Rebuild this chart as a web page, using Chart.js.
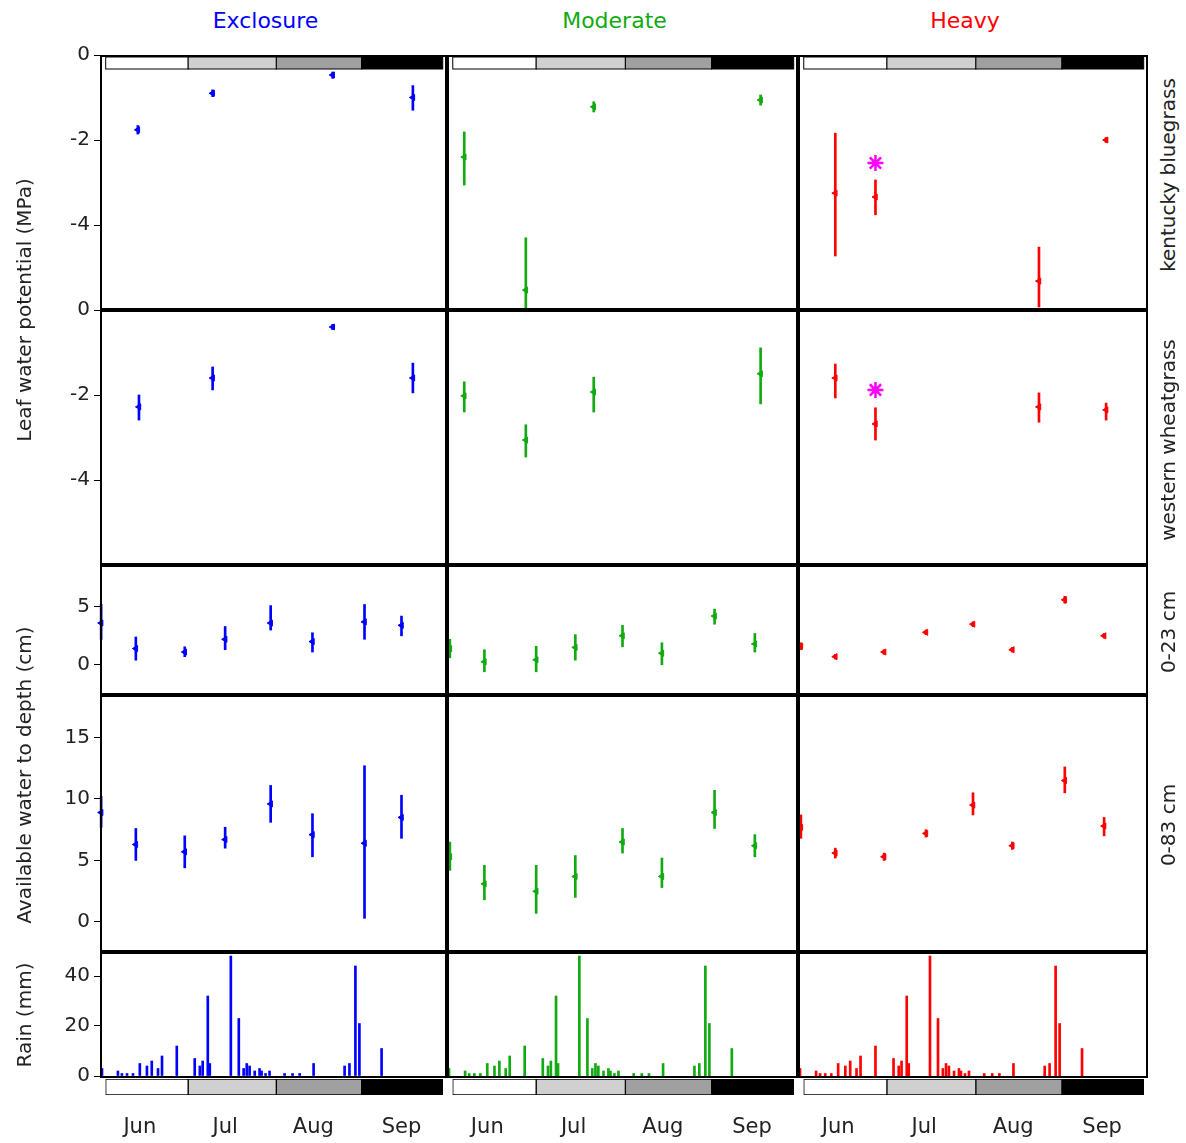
<!DOCTYPE html>
<html>
<head>
<meta charset="utf-8">
<script src="https://cdn.jsdelivr.net/npm/chart.js@4"></script>
<style>
body { margin:0; background:#fff; font-family:"DejaVu Sans", sans-serif; }
#wrap { position:relative; width:1186px; height:1143px; overflow:hidden; }
canvas { position:absolute; }
.lbl { position:absolute; font-size:20px; color:#222; white-space:nowrap; }
.rot { transform:translate(-50%,-50%) rotate(-90deg); }
.ttl { position:absolute; font-size:22px; transform:translateX(-50%); }
</style>
</head>
<body>
<div id="wrap"></div>
<script>
// x values are days counted from 30 May
const monthNames = ['Jun', 'Jul', 'Aug', 'Sep']
const monthStart = [2, 31, 62, 92]
const monthEnd = [31, 62, 92, 120.5]
const monthFill = ['#ffffff', '#d0d0d0', '#a0a0a0', '#000000']
const monthTick = [14, 44, 75, 106]

// [day, mean, low, high]
const kbExclosure = [[13.3,-1.76,-1.66,-1.86],[39.6,-0.9,-0.82,-0.98],[81.8,-0.47,-0.4,-0.55],[110,-1.0,-0.72,-1.3]]
const kbModerate = [[6,-2.4,-1.81,-3.06],[27.4,-5.53,-4.3,-5.95],[51,-1.22,-1.1,-1.34],[109,-1.06,-0.94,-1.18]]
const kbHeavy = [[13,-3.25,-1.84,-4.73],[27,-3.34,-2.94,-3.76],[84,-5.32,-4.52,-5.93],[107.4,-2.0,-1.94,-2.06]]
const kbStar = [[27,-2.54]]

const wwExclosure = [[13.7,-2.28,-2.0,-2.59],[39.6,-1.6,-1.34,-1.88],[81.8,-0.4,-0.34,-0.46],[110,-1.6,-1.25,-1.95]]
const wwModerate = [[6,-2.02,-1.69,-2.4],[27.4,-3.06,-2.7,-3.46],[51,-1.93,-1.58,-2.4],[109,-1.5,-0.89,-2.21]]
const wwHeavy = [[13,-1.6,-1.27,-2.07],[27,-2.68,-2.3,-3.06],[84,-2.28,-1.95,-2.64],[107.4,-2.35,-2.19,-2.59]]
const wwStar = [[27,-1.88]]

const d23Exclosure = [[0.4,3.6,5.2,2.2],[12.6,1.4,2.4,0.4],[29.8,1.1,1.55,0.7],[44,2.2,3.3,1.3],[60,3.6,5.1,3.0],[74.7,2.0,2.76,1.1],[93,3.7,5.2,2.2],[106,3.4,4.2,2.5]]
const d23Moderate = [[1,1.4,2.2,0.6],[13,0.26,1.3,-0.6],[31,0.43,1.6,-0.6],[44.6,1.5,2.6,0.4],[61,2.5,3.4,1.55],[74.7,1.0,1.9,0],[93,4.2,4.8,3.5],[107,1.8,2.7,1.1]]
const d23Heavy = [[1,1.6,1.9,1.3],[13,0.7,0.9,0.5],[30,1.1,1.3,0.9],[44.6,2.8,3.0,2.6],[61,3.5,3.7,3.3],[74.7,1.3,1.5,1.1],[93,5.6,5.9,5.3],[106.7,2.5,2.7,2.3]]

const d83Exclosure = [[0.4,8.9,10.2,7.7],[12.6,6.3,7.6,5.0],[29.8,5.7,7.0,4.4],[44,6.7,7.7,6.0],[60,9.6,11.1,8.1],[74.7,7.1,8.8,5.3],[93,6.4,12.7,0.3],[106,8.5,10.3,6.8]]
const d83Moderate = [[1,5.3,6.5,4.2],[13,3.1,4.6,1.8],[31,2.5,4.6,0.7],[44.6,3.7,5.4,2.0],[61,6.5,7.6,5.6],[74.7,3.7,5.2,2.8],[93,8.9,10.7,7.6],[107,6.2,7.1,5.3]]
const d83Heavy = [[1,7.7,8.7,6.8],[13,5.6,6.0,5.2],[30,5.3,5.6,5.0],[44.6,7.2,7.5,6.9],[61,9.5,10.5,8.7],[74.7,6.2,6.5,5.9],[93,11.5,12.6,10.5],[106.7,7.8,8.5,7.0]]

// [day, mm]
const rain = [[0.7,3],[6.3,2],[7.7,1],[9.5,1],[11.6,1],[14,5],[16.5,4],[18.2,6],[20.4,3],[21.8,8],[27,12],[33.3,7],[35.1,4],[36.1,6],[37.9,32],[38.6,5],[46,48],[48.8,23],[50.5,3],[51.6,5],[52.6,4],[54.4,2],[56.1,3],[56.8,2],[58.2,1],[59.6,2],[64.9,1],[67.7,1],[70.2,1],[75.1,5],[86,4],[87.7,5],[89.8,44],[91.2,21],[99,11]]

const cols = [
  {name:'Exclosure', color:'#0000ff', left:100, right:447},
  {name:'Moderate', color:'#11aa11', left:447, right:798},
  {name:'Heavy', color:'#ff0000', left:798, right:1148}
]
const rows = [
  {top:55, bottom:310, min:-6, max:0, ticks:[0,-2,-4], data:[kbExclosure,kbModerate,kbHeavy], star:kbStar, monthBar:true},
  {top:310, bottom:565, min:-6, max:0, ticks:[0,-2,-4], data:[wwExclosure,wwModerate,wwHeavy], star:wwStar},
  {top:565, bottom:695, min:-2.6, max:8.6, ticks:[0,5], data:[d23Exclosure,d23Moderate,d23Heavy]},
  {top:695, bottom:952, min:-2.44, max:18.45, ticks:[0,5,10,15], data:[d83Exclosure,d83Moderate,d83Heavy]},
  {top:952, bottom:1078, min:-0.8, max:49.6, ticks:[0,20,40], rain:true}
]

const wrap = document.getElementById('wrap')
const FONT = {family:'DejaVu Sans', size:20}
const PAD = 14

const frame = {
  id: 'frame',
  afterDraw(chart, args, opts) {
    const a = chart.chartArea, ctx = chart.ctx
    ctx.save()
    if (opts.monthBar) {
      const x = chart.scales.x
      for (let i = 0; i < monthStart.length; i++) {
        const x0 = x.getPixelForValue(monthStart[i]), x1 = x.getPixelForValue(monthEnd[i])
        ctx.fillStyle = monthFill[i]
        ctx.fillRect(x0, a.top + 2, x1 - x0, 12)
        ctx.strokeStyle = '#000'; ctx.lineWidth = 1
        ctx.strokeRect(x0, a.top + 2, x1 - x0, 12)
      }
    }
    ctx.strokeStyle = '#000'; ctx.lineWidth = 2
    ctx.strokeRect(a.left + 1, a.top + 1, a.right - a.left - 2, a.bottom - a.top - 2)
    ctx.restore()
  }
}

function addCanvas(left, top, w, h) {
  const c = document.createElement('canvas')
  c.width = w; c.height = h
  c.style.left = left + 'px'; c.style.top = top + 'px'
  c.style.width = w + 'px'; c.style.height = h + 'px'
  wrap.appendChild(c)
  return c
}

function yAxis(row, show) {
  return {
    min: row.min, max: row.max, display: show,
    afterBuildTicks: s => { s.ticks = row.ticks.map(v => ({value: v})) },
    afterFit: s => { s.width = show ? 100 : 0; s.paddingTop = 0; s.paddingBottom = 0 },
    ticks: {color: '#222', font: FONT, padding: 4, callback: v => v},
    grid: {drawOnChartArea: false, tickLength: 6, color: '#000'},
    border: {display: false}
  }
}

rows.forEach(row => {
  cols.forEach((col, ci) => {
    const first = ci === 0
    const left = first ? 0 : col.left
    const cv = addCanvas(left, row.top - PAD, col.right - left, row.bottom - row.top + 2 * PAD)
    const datasets = []
    if (row.rain) {
      datasets.push({type: 'bar', data: rain.map(r => ({x: r[0], y: [0, r[1]]})),
        backgroundColor: col.color, barThickness: 2})
    } else {
      const d = row.data[ci]
      datasets.push({type: 'bar', data: d.map(p => ({x: p[0], y: [p[3], p[2]]})),
        backgroundColor: col.color, barThickness: 2, clip: false})
      datasets.push({type: 'scatter', data: d.map(p => ({x: p[0], y: p[1]})), clip: false,
        pointStyle: 'triangle', rotation: -90, radius: 3.5, backgroundColor: col.color, borderColor: col.color})
      if (row.star && ci === 2) {
        datasets.push({type: 'scatter', data: row.star.map(p => ({x: p[0], y: p[1]})),
          pointStyle: 'star', radius: 8, borderWidth: 2.5, borderColor: '#ff00ff', backgroundColor: '#ff00ff'})
      }
    }
    new Chart(cv, {
      data: {datasets},
      plugins: [frame],
      options: {
        responsive: false, animation: false, devicePixelRatio: 1,
        layout: {padding: {top: PAD, bottom: PAD, left: 0, right: 0}, autoPadding: false},
        plugins: {legend: {display: false}, tooltip: {enabled: false}, frame: {monthBar: !!row.monthBar}},
        scales: {
          x: {type: 'linear', min: 0, max: 122, offset: false, display: false},
          y: yAxis(row, first)
        }
      }
    })
  })
})

// bottom month bars with month labels
cols.forEach(col => {
  const cv = addCanvas(col.left, 1076, col.right - col.left, 67)
  new Chart(cv, {
    type: 'bar',
    data: {
      labels: ['m'],
      datasets: monthNames.map((m, i) => ({
        label: m, data: [[monthStart[i], monthEnd[i]]],
        backgroundColor: monthFill[i], borderColor: '#000', borderWidth: 1, borderSkipped: false,
        grouped: false, barPercentage: 1, categoryPercentage: 1
      }))
    },
    options: {
      indexAxis: 'y', responsive: false, animation: false, devicePixelRatio: 1,
      layout: {padding: {left: 0, right: 0, top: 3}, autoPadding: false},
      plugins: {legend: {display: false}, tooltip: {enabled: false}},
      scales: {
        x: {type: 'linear', min: 0, max: 122, offset: false,
          afterBuildTicks: s => { s.ticks = monthTick.map(v => ({value: v})) },
          afterFit: s => { s.height = 48; s.paddingLeft = 0; s.paddingRight = 0 },
          ticks: {color: '#222', font: {family: 'DejaVu Sans', size: 21}, padding: 12,
            callback: (v, i) => monthNames[i]},
          grid: {display: false}, border: {display: false}},
        y: {display: false}
      }
    }
  })
})

function label(text, x, y, cls, color) {
  const d = document.createElement('div')
  d.className = cls
  d.textContent = text
  d.style.left = x + 'px'; d.style.top = y + 'px'
  if (color) d.style.color = color
  wrap.appendChild(d)
}
cols.forEach(col => label(col.name, (col.left + col.right) / 2 - 8, 8, 'ttl', col.color))
label('Leaf water potential (MPa)', 24, 310, 'lbl rot')
label('Available water to depth (cm)', 24, 775, 'lbl rot')
label('Rain (mm)', 24, 1015, 'lbl rot')
label('kentucky bluegrass', 1168, 175, 'lbl rot')
label('western wheatgrass', 1168, 440, 'lbl rot')
label('0-23 cm', 1168, 632, 'lbl rot')
label('0-83 cm', 1168, 825, 'lbl rot')
</script>
</body>
</html>
